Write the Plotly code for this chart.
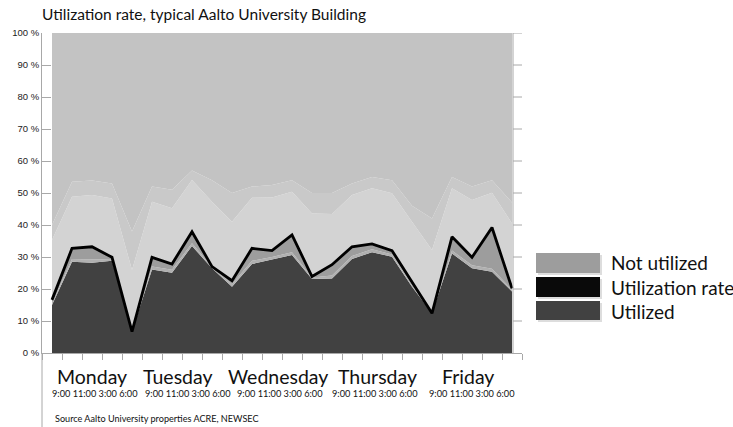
import plotly.graph_objects as go

# ---- data ----
SLOTS = list(range(24))  # 24 time slots across the week
UTILIZED = [15.0, 28.5, 28.2, 28.8, 6.7, 26.1, 25.1, 33.4, 26.5, 20.7, 27.8, 29.1,
            30.6, 23.1, 23.3, 29.4, 31.5, 30.1, 20.7, 12.4, 31.1, 26.5, 25.4, 19.2]
SLIVER_TOP = [15.6, 29.4, 29.2, 29.4, 6.7, 27.0, 26.0, 34.3, 26.9, 21.5, 28.8, 30.0,
              31.5, 23.6, 24.2, 30.3, 32.4, 30.8, 21.3, 12.4, 32.0, 27.4, 26.3, 19.7]
UTIL_RATE = [16.6, 32.7, 33.2, 29.9, 6.7, 29.9, 27.8, 37.9, 27.0, 22.6, 32.7, 32.0,
             36.9, 23.9, 27.6, 33.2, 34.1, 32.0, 22.2, 12.4, 36.3, 29.9, 39.2, 20.2]
BOOKED_TOP = [35.3, 48.8, 49.4, 48.3, 25.9, 47.3, 45.2, 54.1, 47.3, 41.0, 48.5, 48.6,
              50.4, 43.6, 43.4, 49.4, 51.5, 49.9, 41.0, 32.2, 51.5, 47.8, 50.1, 40.5]
FAINT_TOP = [40.0, 53.5, 53.9, 53.0, 38.0, 52.0, 51.0, 57.0, 54.0, 50.0, 52.0, 52.5,
             54.0, 50.0, 50.0, 53.0, 55.0, 54.0, 46.0, 42.0, 55.0, 52.0, 54.0, 47.0]
CAPACITY = [100] * 24

DAYS = ["Monday", "Tuesday", "Wednesday", "Thursday", "Friday"]
TIMES = "9:00 11:00 3:00 6:00"
Y_TICKS = [0, 10, 20, 30, 40, 50, 60, 70, 80, 90, 100]
Y_LABELS = [f"{v} %" for v in Y_TICKS]
LEGEND_LABELS = ["Not utilized", "Utilization rate", "Utilized"]

TITLE = "Utilization rate, typical Aalto University Building"
SOURCE = "Source Aalto University properties ACRE, NEWSEC"

# ---- layout geometry (pixels) ----
W, H = 733, 427
L, R, T, B = 42, 522, 33, 353


def px(x):
    return (x - L) / (R - L)


def py(y):
    return (B - y) / (B - T)


C_DARK = "#414141"
C_SLIVER = "#b0b0b0"
C_MED = "#9d9d9d"
C_LIGHT = "#d3d3d3"
C_FAINT = "#c9c9c9"
C_BG = "#c3c3c3"
C_AXIS = "#a8a8a8"

fig = go.Figure()
layers = [
    (UTILIZED, C_DARK, "tozeroy"),
    (SLIVER_TOP, C_SLIVER, "tonexty"),
    (UTIL_RATE, C_MED, "tonexty"),
    (BOOKED_TOP, C_LIGHT, "tonexty"),
    (FAINT_TOP, C_FAINT, "tonexty"),
    (CAPACITY, C_BG, "tonexty"),
]
for vals, col, fill in layers:
    fig.add_trace(go.Scatter(x=SLOTS, y=vals, mode="lines", fill=fill,
                             fillcolor=col, line=dict(width=0, color=col),
                             showlegend=False, hoverinfo="skip"))
fig.add_trace(go.Scatter(x=SLOTS, y=UTIL_RATE, mode="lines",
                         line=dict(color="#000000", width=2.8),
                         showlegend=False, name="Utilization rate"))

shapes = []
# extended left axis line down past the labels
shapes.append(dict(type="line", xref="paper", yref="paper", x0=0, x1=0,
                   y0=py(B), y1=py(H), line=dict(color=C_AXIS, width=1)))
# right axis line with outward ticks
shapes.append(dict(type="line", xref="paper", yref="paper", x0=px(513), x1=px(513),
                   y0=0, y1=1, line=dict(color=C_AXIS, width=1)))
for v in Y_TICKS[1:]:
    shapes.append(dict(type="line", xref="paper", yref="y", x0=px(513), x1=px(522),
                       y0=v, y1=v, line=dict(color=C_AXIS, width=1)))

# legend swatches
sw = [(253, 273, C_MED), (277, 297, "#0a0a0a"), (301, 320, C_DARK)]
for y0, y1, col in sw:
    shapes.append(dict(type="rect", xref="paper", yref="paper",
                       x0=px(538), x1=px(602), y0=py(y1 + 2), y1=py(y0 + 2),
                       fillcolor="#dddddd", line=dict(width=0), layer="above"))
    shapes.append(dict(type="rect", xref="paper", yref="paper",
                       x0=px(536), x1=px(600), y0=py(y1), y1=py(y0),
                       fillcolor=col, line=dict(width=0), layer="above"))

annotations = []
FONT = "Lato"
annotations.append(dict(text=TITLE, xref="paper", yref="paper", x=px(40), y=py(14),
                        xanchor="left", yanchor="middle", showarrow=False,
                        font=dict(family=FONT, size=15.5, color="#111111")))
for lbl, yc in zip(LEGEND_LABELS, [262, 287, 311]):
    annotations.append(dict(text=lbl, xref="paper", yref="paper", x=px(609), y=py(yc),
                            xanchor="left", yanchor="middle", showarrow=False,
                            font=dict(family=FONT, size=19, color="#111111")))
DAY_X = [91.5, 177.5, 277.5, 377.5, 467.5]
TIME_X = [95, 187.5, 280, 374.5, 471.5]
for d, dx, tx in zip(DAYS, DAY_X, TIME_X):
    annotations.append(dict(text=d, xref="paper", yref="paper", x=px(dx), y=py(376),
                            xanchor="center", yanchor="middle", showarrow=False,
                            font=dict(family=FONT, size=19.5, color="#111111")))
    annotations.append(dict(text=TIMES, xref="paper", yref="paper", x=px(tx), y=py(393),
                            xanchor="center", yanchor="middle", showarrow=False,
                            font=dict(family=FONT, size=9.2, color="#111111")))
annotations.append(dict(text=SOURCE, xref="paper", yref="paper", x=px(53), y=py(418),
                        xanchor="left", yanchor="middle", showarrow=False,
                        font=dict(family=FONT, size=9.1, color="#111111")))

fig.update_layout(
    width=W, height=H,
    margin=dict(l=L, r=W - R, t=T, b=H - B, pad=0),
    paper_bgcolor="white", plot_bgcolor="white",
    showlegend=False,
    shapes=shapes, annotations=annotations,
    xaxis=dict(range=[-0.5, 23.5], showgrid=False, zeroline=False,
               showline=True, linecolor=C_AXIS, linewidth=1,
               tickvals=[k + 0.5 for k in range(-1, 24)], ticktext=[""] * 25,
               ticks="outside", ticklen=6, tickcolor=C_AXIS, showticklabels=False),
    yaxis=dict(range=[0, 100], showgrid=False, zeroline=False,
               showline=True, linecolor=C_AXIS, linewidth=1,
               tickvals=Y_TICKS, ticktext=Y_LABELS,
               ticks="inside", ticklen=9, tickcolor=C_AXIS,
               tickfont=dict(family="Liberation Sans", size=9.5, color="#222222")),
)

fig.write_html("out.html")
